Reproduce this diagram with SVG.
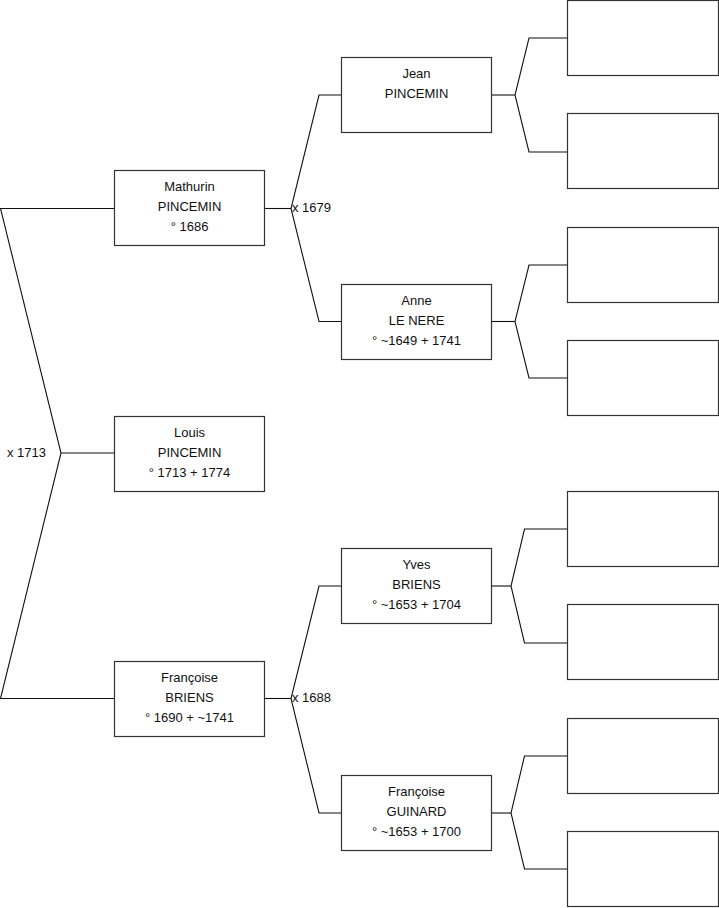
<svg xmlns="http://www.w3.org/2000/svg" width="719" height="908" viewBox="0 0 719 908">
<style>
.box{fill:#fff;stroke:#333;stroke-width:1.2}
.c{fill:none;stroke:#111;stroke-width:1.1}
text{font-family:"Liberation Sans",Arial,sans-serif;font-size:13px;fill:#111}
.m{text-anchor:middle}
</style>
<rect width="719" height="908" fill="#fff"/>
<g id="connectors">
<polyline class="c" points="114,208.5 0.5,208.5 61,453 0.5,698.5 114,698.5"/>
<line class="c" x1="61" y1="453" x2="114" y2="453"/>
<polyline class="c" points="341,95 319,95 291,208.5 319,321.5 341,321.5"/>
<line class="c" x1="265" y1="208.5" x2="291" y2="208.5"/>
<polyline class="c" points="341,586 319,586 291,698.5 319,813 341,813"/>
<line class="c" x1="265" y1="698.5" x2="291" y2="698.5"/>
<polyline class="c" points="567,38 529,38 515,95 529,152 567,152"/>
<line class="c" x1="492" y1="95" x2="515" y2="95"/>
<polyline class="c" points="567,265 529,265 515,321.5 529,378 567,378"/>
<line class="c" x1="492" y1="321.5" x2="515" y2="321.5"/>
<polyline class="c" points="567,529 524.5,529 511,586 524.5,643 567,643"/>
<line class="c" x1="492" y1="586" x2="511" y2="586"/>
<polyline class="c" points="567,756 524.5,756 511,813 524.5,869 567,869"/>
<line class="c" x1="492" y1="813" x2="511" y2="813"/>
<text x="7" y="457">x 1713</text>
<text x="292" y="212">x 1679</text>
<text x="292" y="702">x 1688</text>
</g>
<g id="louis"><rect class="box" x="114.5" y="416.5" width="150" height="75"/>
<text class="m" x="189.5" y="437">Louis</text><text class="m" x="189.5" y="457">PINCEMIN</text><text class="m" x="189.5" y="477">° 1713 + 1774</text></g>
<g id="mathurin"><rect class="box" x="114.5" y="170.5" width="150" height="75"/>
<text class="m" x="189.5" y="191">Mathurin</text><text class="m" x="189.5" y="211">PINCEMIN</text><text class="m" x="189.5" y="231">° 1686</text></g>
<g id="francoise-b"><rect class="box" x="114.5" y="661.5" width="150" height="75"/>
<text class="m" x="189.5" y="682">Françoise</text><text class="m" x="189.5" y="702">BRIENS</text><text class="m" x="189.5" y="722">° 1690 + ~1741</text></g>
<g id="jean"><rect class="box" x="341.5" y="57.5" width="150" height="75"/>
<text class="m" x="416.5" y="78">Jean</text><text class="m" x="416.5" y="98">PINCEMIN</text></g>
<g id="anne"><rect class="box" x="341.5" y="284.5" width="150" height="75"/>
<text class="m" x="416.5" y="305">Anne</text><text class="m" x="416.5" y="325">LE NERE</text><text class="m" x="416.5" y="345">° ~1649 + 1741</text></g>
<g id="yves"><rect class="box" x="341.5" y="548.5" width="150" height="75"/>
<text class="m" x="416.5" y="569">Yves</text><text class="m" x="416.5" y="589">BRIENS</text><text class="m" x="416.5" y="609">° ~1653 + 1704</text></g>
<g id="francoise-g"><rect class="box" x="341.5" y="775.5" width="150" height="75"/>
<text class="m" x="416.5" y="796">Françoise</text><text class="m" x="416.5" y="816">GUINARD</text><text class="m" x="416.5" y="836">° ~1653 + 1700</text></g>
<g id="g3-1"><rect class="box" x="567.5" y="0.5" width="151" height="75"/></g>
<g id="g3-2"><rect class="box" x="567.5" y="113.5" width="151" height="75"/></g>
<g id="g3-3"><rect class="box" x="567.5" y="227.5" width="151" height="75"/></g>
<g id="g3-4"><rect class="box" x="567.5" y="340.5" width="151" height="75"/></g>
<g id="g3-5"><rect class="box" x="567.5" y="491.5" width="151" height="75"/></g>
<g id="g3-6"><rect class="box" x="567.5" y="604.5" width="151" height="75"/></g>
<g id="g3-7"><rect class="box" x="567.5" y="718.5" width="151" height="75"/></g>
<g id="g3-8"><rect class="box" x="567.5" y="831.5" width="151" height="75"/></g>
</svg>
